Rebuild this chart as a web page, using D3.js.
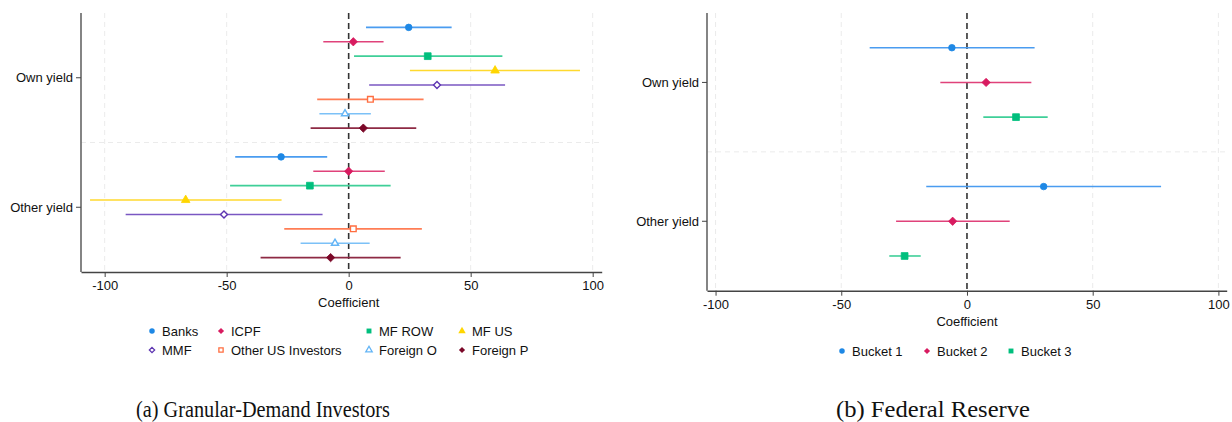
<!DOCTYPE html>
<html><head><meta charset="utf-8">
<script src="https://cdn.jsdelivr.net/npm/d3@7"></script>
<style>
body{margin:0;background:#fff;}
svg{display:block;font-family:"Liberation Sans",Arial,Helvetica,sans-serif;}
</style></head>
<body>
<svg id="chart" width="1232" height="422"></svg>
<script>
// ---------- DATA ----------
const groups = ["Own yield", "Other yield"];
const xTicks = [-100, -50, 0, 50, 100];

const seriesA = ["Banks", "ICPF", "MF ROW", "MF US", "MMF", "Other US Investors", "Foreign O", "Foreign P"];
const ownA   = [24.6, 1.9, 32.4, 60.0, 36.2, 8.9, -1.5, 6.0];
const ownALo = [7.1, -10.4, 2.2, 25.1, 8.4, -12.9, -12.0, -15.6];
const ownAHi = [42.2, 14.3, 63.0, 94.8, 64.1, 30.7, 9.1, 27.7];
const othA   = [-27.7, 0.0, -15.9, -66.8, -51.1, 1.9, -5.6, -7.4];
const othALo = [-46.5, -14.5, -48.6, -106.0, -91.4, -26.4, -19.7, -36.1];
const othAHi = [-8.8, 14.8, 17.2, -27.5, -10.7, 30.0, 8.6, 21.3];

const seriesB = ["Bucket 1", "Bucket 2", "Bucket 3"];
const ownB   = [-6.0, 7.6, 19.5];
const ownBLo = [-38.7, -10.6, 6.5];
const ownBHi = [26.9, 25.6, 32.1];
const othB   = [30.5, -5.7, -24.8];
const othBLo = [-16.2, -28.2, -30.9];
const othBHi = [77.2, 17.0, -18.4];

// ---------- STYLES ----------
const styleA = [
  {c:"#1E88E5", lc:"#4a9cf0", shape:"circle", fill:true},
  {c:"#D81B60", lc:"#e0427a", shape:"diamond", fill:true},
  {c:"#00BF7D", lc:"#3fcf98", shape:"square", fill:true},
  {c:"#FFD600", lc:"#ffd92e", shape:"triangle", fill:true},
  {c:"#5E35B1", lc:"#7a57c2", shape:"diamond", fill:false},
  {c:"#FF6E40", lc:"#ff7d55", shape:"square", fill:false},
  {c:"#64B5F6", lc:"#7cc1f7", shape:"triangle", fill:false},
  {c:"#7B0828", lc:"#8e2a44", shape:"diamond", fill:true}
];
const styleB = [styleA[0], styleA[1], styleA[2]];
const FS = 13;

const svg = d3.select("#chart");
const symMap = {circle:d3.symbolCircle, diamond:d3.symbolDiamond2, square:d3.symbolSquare, triangle:d3.symbolTriangle};

function marker(g, s, x, y) {
  const sizes = {circle:34, diamond:44, square:46, triangle:32};
  let size = sizes[s.shape];
  if (!s.fill) size = size*0.7;
  const p = g.append("path")
    .attr("d", d3.symbol().type(symMap[s.shape]).size(size)())
    .attr("transform", `translate(${x},${y})`);
  if (s.fill) p.attr("fill", s.c).attr("stroke", s.c).attr("stroke-width", 0.8);
  else p.attr("fill", "#fff").attr("stroke", s.c).attr("stroke-width", 1.4);
}

function panel(cfg) {
  const g = svg.append("g");
  const x = d3.scaleLinear().domain(cfg.xDomain).range([cfg.left, cfg.right]);
  const y = d3.scaleLinear().domain(cfg.yDomain).range([cfg.top, cfg.bottom]);
  const n = cfg.series.length;

  g.selectAll(".vg").data(xTicks.filter(t => t !== 0)).join("line")
    .attr("x1", d => x(d)).attr("x2", d => x(d))
    .attr("y1", cfg.top).attr("y2", cfg.bottom)
    .attr("stroke", "#ebebeb").attr("stroke-width", 1).attr("stroke-dasharray", "5,4");
  g.append("line").attr("x1", cfg.left).attr("x2", cfg.right)
    .attr("y1", y(n)).attr("y2", y(n))
    .attr("stroke", "#ebebeb").attr("stroke-width", 1).attr("stroke-dasharray", "5,4");

  g.append("line").attr("x1", x(0)).attr("x2", x(0))
    .attr("y1", cfg.top).attr("y2", cfg.bottom)
    .attr("stroke", "#333").attr("stroke-width", 1.6).attr("stroke-dasharray", "6,4");

  const xa = g.append("g").attr("transform", `translate(0,${cfg.bottom})`)
    .call(d3.axisBottom(x).tickValues(xTicks).tickSize(5).tickSizeOuter(0).tickPadding(4));
  xa.select(".domain").attr("stroke", "#444").attr("stroke-width", 1.4);
  xa.selectAll(".tick line").attr("stroke", "#444");
  xa.selectAll("text").attr("font-size", FS).attr("fill", "#111")
    .text(d => d < 0 ? "-" + Math.abs(d) : d);
  g.append("line").attr("x1", cfg.left).attr("x2", cfg.left).attr("y1", cfg.top).attr("y2", cfg.bottom)
    .attr("stroke", "#666").attr("stroke-width", 1.6);
  const gy = [ (n-1)/2, n + 1 + (n-1)/2 ];
  groups.forEach((lab, i) => {
    g.append("line").attr("x1", cfg.left-5).attr("x2", cfg.left)
      .attr("y1", y(gy[i])).attr("y2", y(gy[i])).attr("stroke", "#444");
    g.append("text").attr("x", cfg.left-8).attr("y", y(gy[i])).attr("dy", "0.35em")
      .attr("text-anchor", "end").attr("font-size", FS).attr("fill", "#111").text(lab);
  });
  g.append("text").attr("x", x(0)).attr("y", cfg.bottom + 35)
    .attr("text-anchor", "middle").attr("font-size", FS).attr("fill", "#111").text("Coefficient");

  const sets = [[cfg.own, cfg.ownLo, cfg.ownHi, 0], [cfg.oth, cfg.othLo, cfg.othHi, n+1]];
  sets.forEach(([v, lo, hi, off]) => {
    cfg.series.forEach((name, i) => {
      const s = cfg.styles[i];
      const yy = y(off + i);
      g.append("line").attr("x1", x(lo[i])).attr("x2", x(hi[i]))
        .attr("y1", yy).attr("y2", yy).attr("stroke", s.lc).attr("stroke-width", 1.6);
      marker(g, s, x(v[i]), yy);
    });
  });

  cfg.series.forEach((name, i) => {
    const lx = cfg.legX[i % cfg.legX.length];
    const ly = cfg.legY[Math.floor(i / cfg.legX.length)];
    const s = cfg.styles[i];
    const lg = svg.append("g");
    const p = lg.append("path").attr("d", d3.symbol().type(symMap[s.shape]).size(s.fill ? 24 : 18)())
      .attr("transform", `translate(${lx},${ly})`);
    if (s.fill) p.attr("fill", s.c); else p.attr("fill", "#fff").attr("stroke", s.c).attr("stroke-width", 1.3);
    lg.append("text").attr("x", lx + 10).attr("y", ly).attr("dy", "0.35em")
      .attr("font-size", FS).attr("fill", "#111").text(name);
  });
}

panel({
  series: seriesA, styles: styleA,
  own: ownA, ownLo: ownALo, ownHi: ownAHi, oth: othA, othLo: othALo, othHi: othAHi,
  xDomain: [-109.7, 103.7], left: 81, right: 601.7,
  yDomain: [-1, 17], top: 13, bottom: 272,
  legX: [152, 221, 369, 462], legY: [331, 350]
});
panel({
  series: seriesB, styles: styleB,
  own: ownB, ownLo: ownBLo, ownHi: ownBHi, oth: othB, othLo: othBLo, othHi: othBHi,
  xDomain: [-103.4, 103.3], left: 707, right: 1226.7,
  yDomain: [-1, 7], top: 13, bottom: 290.7,
  legX: [842, 927, 1011], legY: [351]
});

const serif = "'Liberation Serif','Times New Roman',serif";
svg.append("text").attr("x", 136).attr("y", 417)
  .attr("font-family", serif).attr("font-size", 23).attr("fill", "#111")
  .attr("textLength", 254).attr("lengthAdjust", "spacingAndGlyphs")
  .text("(a) Granular-Demand Investors");
svg.append("text").attr("x", 836).attr("y", 417)
  .attr("font-family", serif).attr("font-size", 23).attr("fill", "#111")
  .attr("textLength", 194).attr("lengthAdjust", "spacingAndGlyphs")
  .text("(b) Federal Reserve");
</script>
</body></html>
